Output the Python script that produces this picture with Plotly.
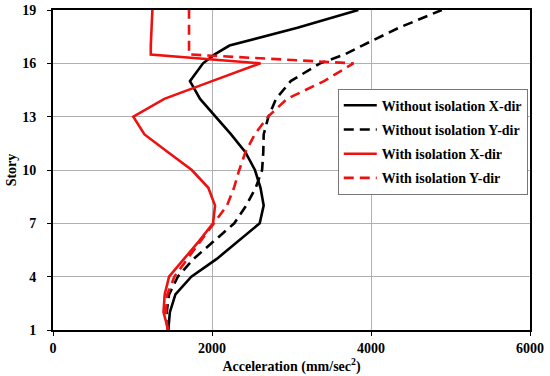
import plotly.graph_objects as go

stories = [1, 2, 3, 4, 5, 6, 7, 8, 9, 10, 11, 12, 13, 14, 15, 16, 16.5, 17, 18, 19]

without_x = [1450, 1470, 1540, 1740, 2060, 2330, 2600, 2650, 2610, 2540,
             2420, 2240, 2040, 1850, 1723, 1887, 2034, 2220, 3075, 3840]
without_y = [1450, 1430, 1460, 1570, 1768, 2020, 2280, 2430, 2550, 2630,
             2645, 2650, 2710, 2805, 2990, 3360, 3670, 3890, 4350, 4890]
with_x = [1450, 1390, 1405, 1460, 1648, 1837, 2013, 2038, 1954, 1746,
          1447, 1151, 1010, 1400, 2000, 2610, 1230, 1230, 1240, 1250]
with_y = [1440, 1420, 1438, 1527, 1690, 1855, 2030, 2189, 2277, 2343,
          2420, 2537, 2705, 2943, 3409, 3780, 1711, 1711, 1711, 1711]

names = ["Without isolation X-dir", "Without isolation Y-dir",
         "With isolation X-dir", "With isolation Y-dir"]
series = [without_x, without_y, with_x, with_y]
colors = ["black", "black", "#ee1111", "#ee1111"]
dashes = ["solid", "10px,6px", "solid", "10px,6px"]

x_ticks = [0, 2000, 4000, 6000]
y_ticks = [1, 4, 7, 10, 13, 16, 19]

FONT = "Liberation Serif, Times New Roman, serif"
F = dict(family=FONT, size=14, color="black", weight="bold")

fig = go.Figure()
for i, (nm, vals, c, d) in enumerate(zip(names, series, colors, dashes)):
    fig.add_trace(go.Scatter(
        x=vals, y=stories, mode="lines", name=nm, legendgroup=str(i),
        line=dict(color=c, width=2.6, dash=d),
    ))

fig.update_layout(
    width=550, height=376,
    margin=dict(l=53, r=20, t=10, b=46),
    paper_bgcolor="white", plot_bgcolor="white",
    font=F,
    legend=dict(
        x=0.597, y=0.754, xanchor="left", yanchor="top",
        bordercolor="#777777", borderwidth=1, bgcolor="white",
        font=F, tracegroupgap=3, traceorder="grouped", itemwidth=33,
    ),
    xaxis=dict(
        range=[0, 6000], tickvals=x_ticks, ticktext=[str(v) for v in x_ticks],
        showgrid=True, gridcolor="#b0b0b0", gridwidth=1,
        showline=True, linecolor="black", linewidth=2, mirror=True,
        ticks="outside", ticklen=4, tickcolor="black", automargin=False,
        tickfont=F,
        title=dict(text="Acceleration (mm/sec<sup>2</sup>)", standoff=0, font=F),
        zeroline=False,
    ),
    yaxis=dict(
        range=[1, 19], tickvals=y_ticks, ticktext=[str(v) for v in y_ticks],
        showgrid=True, gridcolor="#b0b0b0", gridwidth=1,
        showline=True, linecolor="black", linewidth=2, mirror=True,
        ticks="outside", ticklen=4, tickcolor="black", ticklabelstandoff=8,
        automargin=False, tickfont=F,
        title=dict(text="Story", standoff=2, font=F),
        zeroline=False,
    ),
)

fig.write_html("out.html", config={"displayModeBar": False},
               post_script="document.body.style.margin='0';document.body.style.overflow='hidden';")
